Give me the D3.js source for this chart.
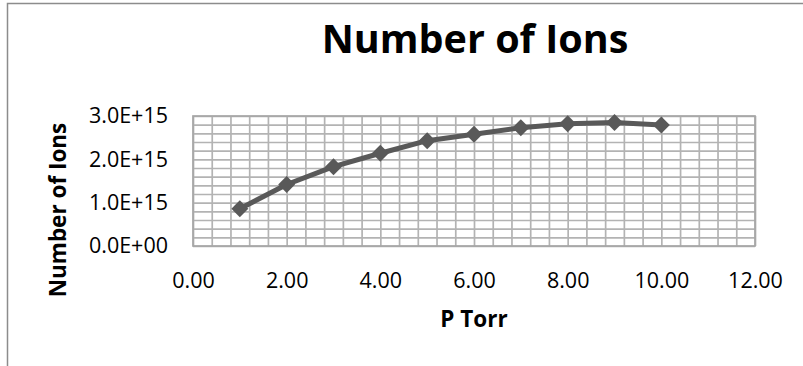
<html>
<head>
  <style>
    body { margin: 0; background: white; font-family: "Open Sans", Calibri, sans-serif; }
    .tick text { fill: black; }
  </style>
  <script src="https://cdn.jsdelivr.net/npm/d3@7"></script>
</head>
<body>
<svg id="chart"></svg>
<script>
  // data
  let pressure = [1, 2, 3, 4, 5, 6, 7, 8, 9, 10]
  let ions = [0.86e15, 1.42e15, 1.83e15, 2.14e15, 2.43e15, 2.58e15, 2.73e15, 2.82e15, 2.85e15, 2.79e15]
  let xTicks = [0, 2, 4, 6, 8, 10, 12]
  let yTicks = [0, 1e15, 2e15, 3e15]
  let xMinor = d3.range(0, 12.001, 0.4)
  let yMinor = d3.range(0, 3.0001e15, 0.2e15)

  let width = 803, height = 366
  let margin = { top: 116, left: 193, right: 48, bottom: 120 }
  let bodyWidth = width - margin.left - margin.right
  let bodyHeight = height - margin.top - margin.bottom

  let svg = d3.select("#chart").attr("width", width).attr("height", height)

  // outer chart border
  svg.append("rect")
    .attr("x", 7.5).attr("y", 3.5)
    .attr("width", 820).attr("height", 400)
    .attr("fill", "none").attr("stroke", "#8c8c8c").attr("stroke-width", 1.5)

  let xScale = d3.scaleLinear().domain([0, 12]).range([0, bodyWidth])
  let yScale = d3.scaleLinear().domain([0, 3e15]).range([bodyHeight, 0])

  let body = svg.append("g").attr("transform", `translate(${margin.left},${margin.top})`)

  // gridlines
  body.append("g").attr("transform", `translate(0,${bodyHeight})`)
    .call(d3.axisBottom(xScale).tickValues(xMinor).tickSize(-bodyHeight).tickFormat(""))
  body.append("g")
    .call(d3.axisLeft(yScale).tickValues(yMinor).tickSize(-bodyWidth).tickFormat(""))
  svg.selectAll(".domain").remove()
  body.selectAll(".tick line").attr("stroke", "#b3b3b3").attr("stroke-width", 1.7)

  body.append("rect")
    .attr("width", bodyWidth).attr("height", bodyHeight)
    .attr("fill", "none").attr("stroke", "#a6a6a6").attr("stroke-width", 1.7)

  // axis labels
  let axisX = d3.axisBottom(xScale).tickValues(xTicks).tickSize(0).tickPadding(27)
    .tickFormat(d3.format(".2f"))
  let gx = body.append("g").attr("transform", `translate(0,${bodyHeight})`).call(axisX)
  gx.select(".domain").remove()
  gx.selectAll("text").attr("font-size", 21.5).attr("font-family", "Open Sans")

  let axisY = d3.axisLeft(yScale).tickValues(yTicks).tickSize(0).tickPadding(25)
    .tickFormat(d => d3.format(".1e")(d).replace("e+", "E+").replace(/E\+(\d)$/, "E+0$1"))
  let gy = body.append("g").call(axisY)
  gy.select(".domain").remove()
  gy.selectAll("text").attr("font-size", 21.5).attr("font-family", "Open Sans")

  // series line and diamond markers
  let points = pressure.map((p, i) => [p, ions[i]])
  let line = d3.line().x(d => xScale(d[0])).y(d => yScale(d[1]))
  body.append("path").datum(points)
    .attr("d", line)
    .attr("fill", "none").attr("stroke", "#595959").attr("stroke-width", 5)
    .attr("stroke-linejoin", "round")

  body.selectAll(".marker").data(points).enter().append("path")
    .attr("class", "marker")
    .attr("transform", d => `translate(${xScale(d[0])},${yScale(d[1])}) rotate(45)`)
    .attr("d", "M-6,-6H6V6H-6Z")
    .attr("fill", "#595959")

  // titles
  svg.append("text").attr("x", 475).attr("y", 53).attr("text-anchor", "middle")
    .attr("font-size", 39.5).attr("font-weight", "bold").text("Number of Ions")
  svg.append("text").attr("x", 474).attr("y", 327).attr("text-anchor", "middle")
    .attr("font-size", 22.5).attr("font-weight", "bold").text("P Torr")
  svg.append("text").attr("transform", "translate(66,210) rotate(-90)").attr("text-anchor", "middle")
    .attr("font-size", 22.5).attr("font-weight", "bold").text("Number of Ions")
</script>
</body>
</html>
